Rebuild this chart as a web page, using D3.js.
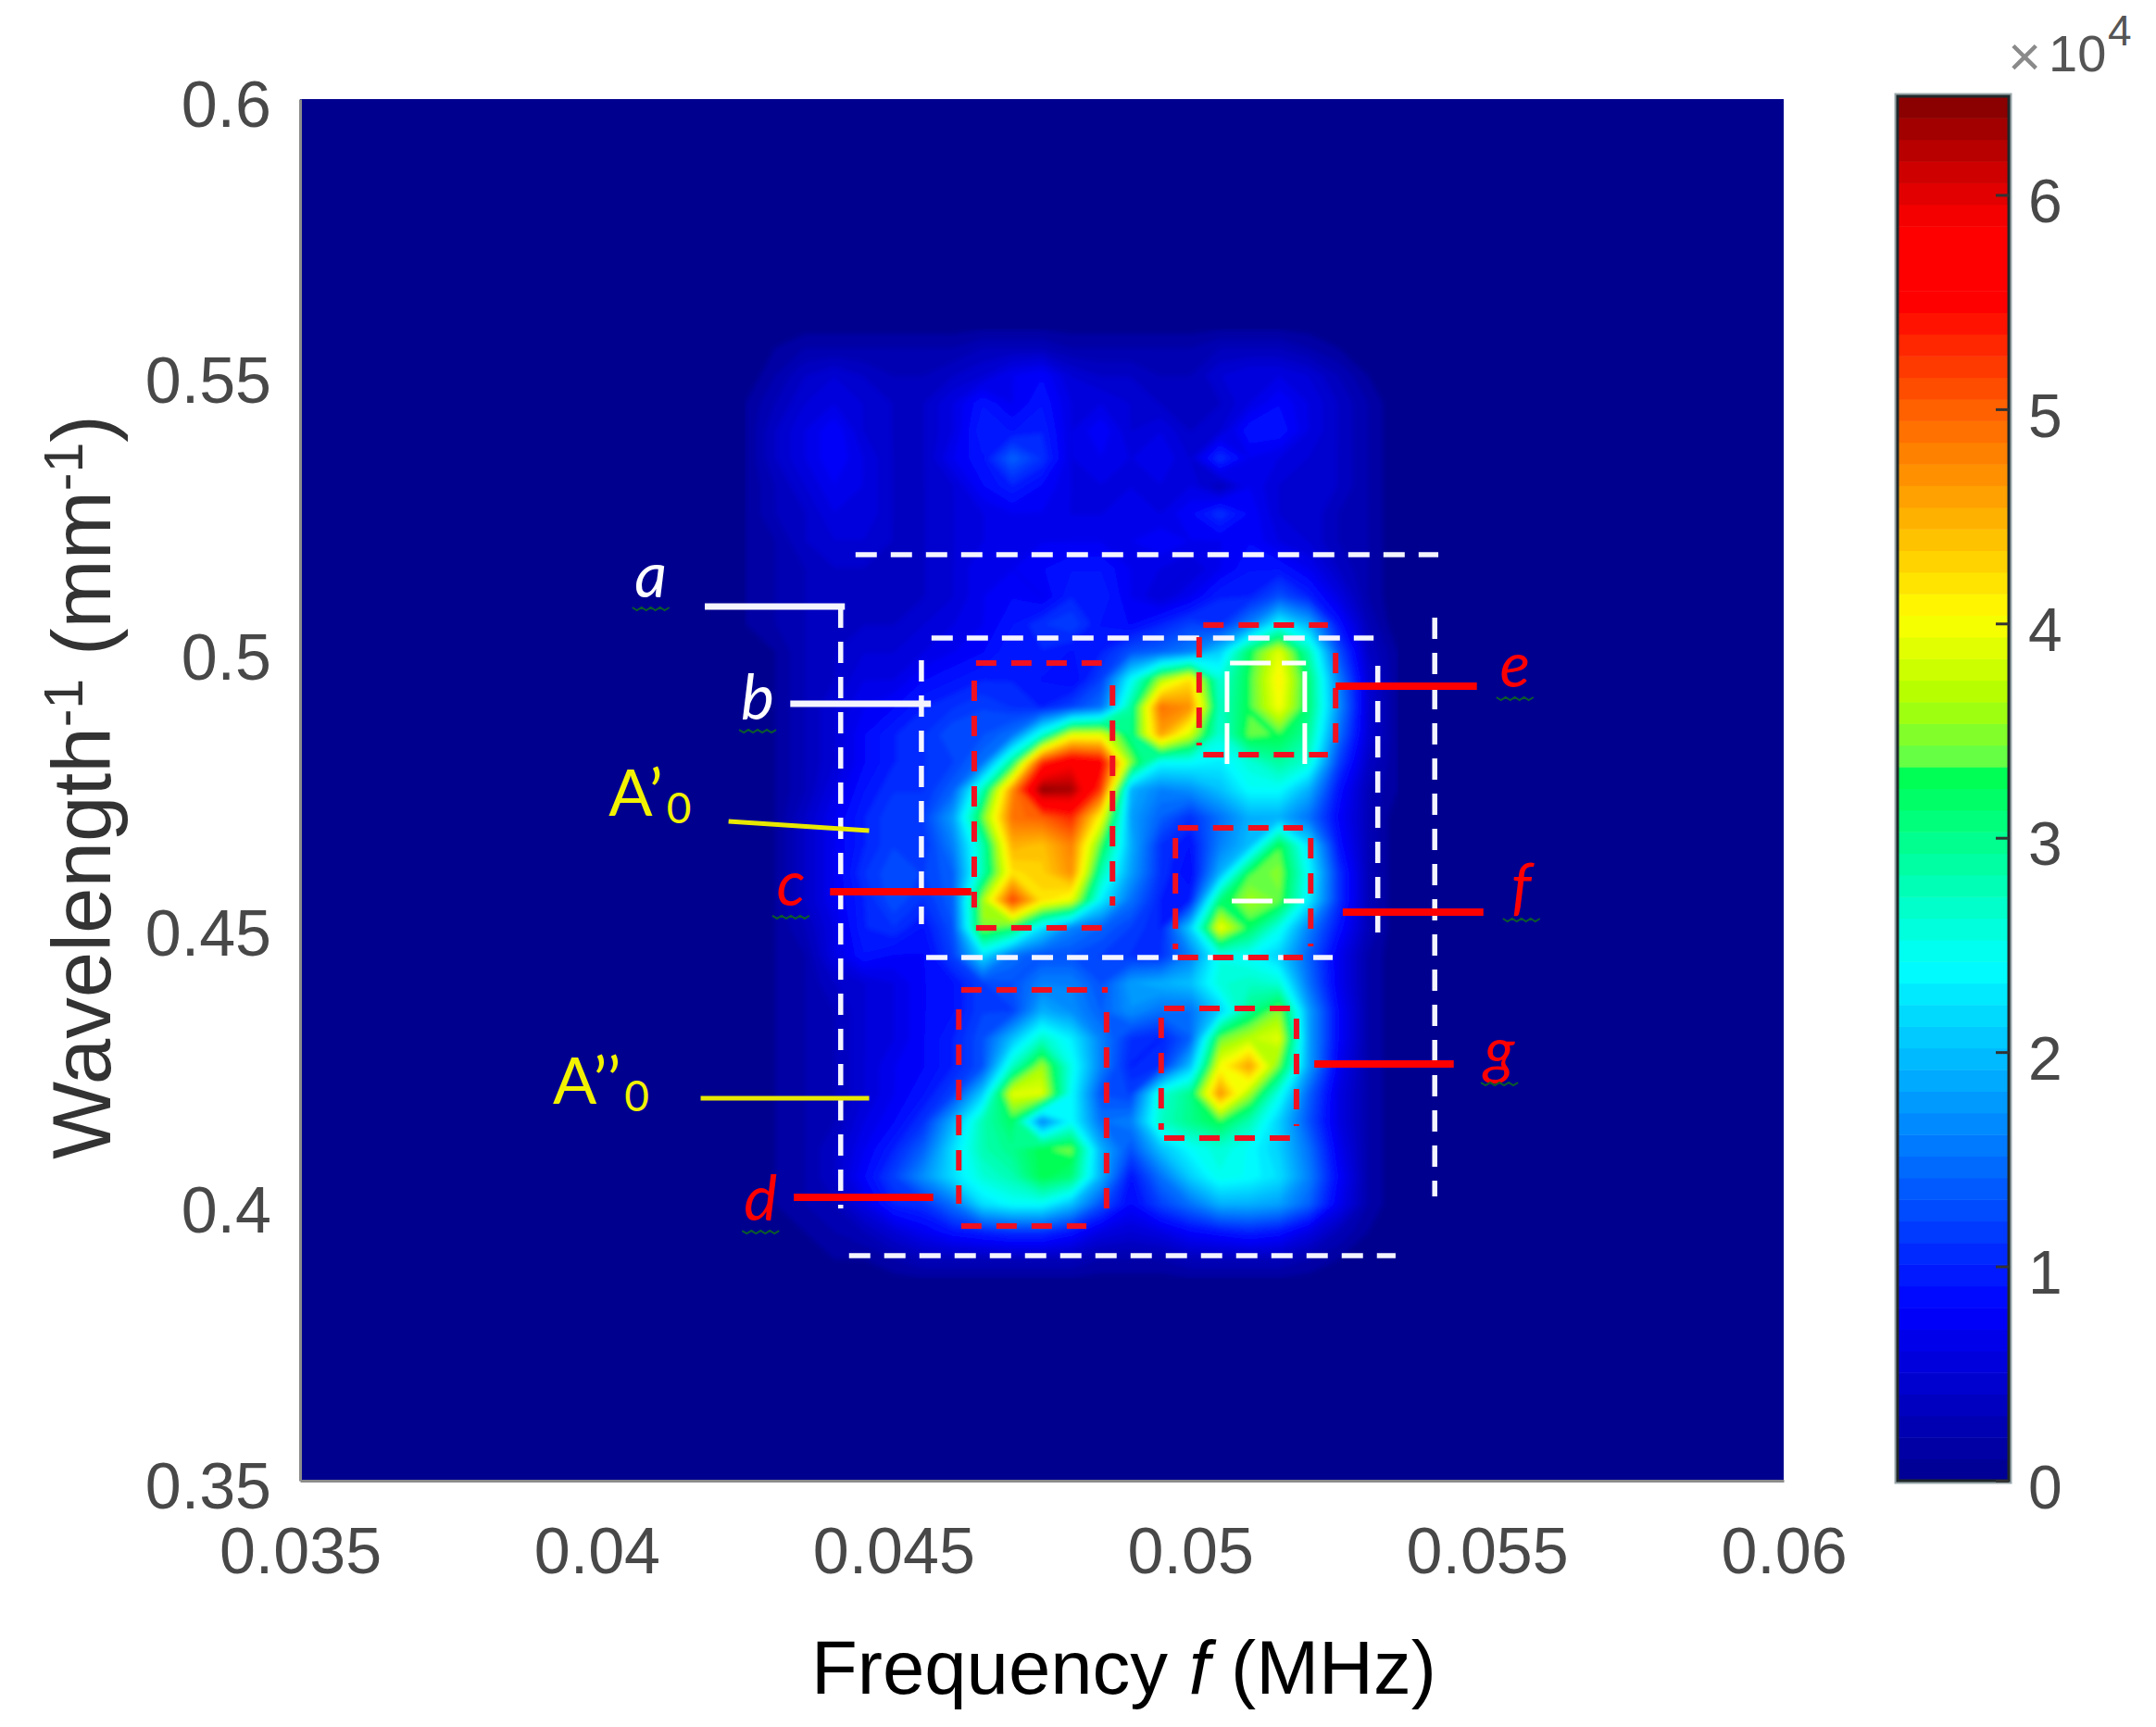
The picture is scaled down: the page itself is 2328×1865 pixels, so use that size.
<!DOCTYPE html>
<html>
<head>
<meta charset="utf-8">
<script src="https://cdn.jsdelivr.net/npm/d3@7"></script>
<style>
  html, body { margin: 0; background: #fff; }
  text { font-family: "Liberation Sans", Arial, sans-serif; }
  .note { font-family: Lato, "Open Sans", sans-serif; }
</style>
</head>
<body>
<script>
'use strict';

var frequencies = [0.042, 0.0425, 0.043, 0.0435, 0.044, 0.0445, 0.045, 0.0455, 0.046, 0.0465, 0.047, 0.0475, 0.048,
  0.0485, 0.049, 0.0495, 0.05, 0.0505, 0.051, 0.0515, 0.052, 0.0525, 0.053, 0.0535, 0.054];

var wavelengths = [0.56, 0.555, 0.55, 0.545, 0.54, 0.535, 0.53, 0.525, 0.52, 0.515, 0.51, 0.505, 0.5, 0.495, 0.49,
  0.485, 0.48, 0.475, 0.47, 0.465, 0.46, 0.455, 0.45, 0.445, 0.44, 0.435, 0.43, 0.425, 0.42, 0.415, 0.41, 0.405,
  0.4, 0.395, 0.39, 0.385];

// amplitude x 10^4, one row per wavelength, one column per frequency
var amplitudes = [
  [0,0,0,0,0,0,0,0,0,0,0,0,0,0,0,0,0,0,0,0,0,0,0,0,0],
  [0,0,.1,.2,.2,.2,.2,.2,.2,.3,.3,.3,.2,.2,.2,.2,.2,.3,.3,.3,.2,.1,.1,0,0],
  [0,0,.2,.4,.5,.4,.3,.3,.4,.5,.7,.8,.5,.4,.4,.3,.3,.5,.6,.6,.5,.3,.1,0,0],
  [0,.1,.3,.5,.6,.5,.4,.4,.6,.9,.7,.9,.6,.6,.5,.4,.4,.4,.6,.8,.6,.4,.2,0,0],
  [0,.1,.4,.6,.8,.5,.4,.4,.6,1,.9,1,.6,.8,.5,.6,.4,.5,.9,.9,.6,.4,.2,0,0],
  [0,.1,.4,.6,.8,.6,.4,.4,.7,.9,1.4,1.1,.6,.7,.6,.7,.5,1.1,.7,.6,.5,.4,.2,0,0],
  [0,.1,.3,.5,.7,.6,.4,.4,.5,.8,1,.8,.6,.6,.6,.6,.6,.3,.7,.5,.5,.4,.2,0,0],
  [0,.1,.3,.4,.6,.6,.4,.4,.5,.6,.7,.7,.6,.6,.7,.6,.8,1.1,.8,.5,.5,.3,.2,0,0],
  [0,.1,.2,.4,.5,.5,.4,.4,.5,.6,.7,.7,.7,.7,.7,.8,.7,.7,.8,.6,.5,.3,.2,0,0],
  [0,.1,.2,.3,.4,.4,.4,.4,.5,.7,.7,.8,.9,.9,.7,.6,.5,.7,.9,.9,.7,.4,.2,0,0],
  [0,.1,.2,.3,.4,.4,.4,.4,.5,.7,.8,.7,1,1,.7,.5,.7,1,1,1.3,1,.6,.2,0,0],
  [0,.1,.2,.3,.4,.4,.4,.5,.6,.7,.9,1.1,1.2,.9,.8,1,1.2,1.1,1.6,2.4,1.9,.9,.3,0,0],
  [0,0,.1,.3,.4,.5,.5,.6,.7,.8,1,1,.9,1,1.3,1.4,1.6,2.1,3.2,3.9,2.8,1.3,.4,.1,0],
  [0,0,.1,.3,.4,.6,.6,.8,.9,1,1,.9,.8,1.2,2.4,3.6,4.2,2.6,3.3,4.1,3.1,1.6,.5,.1,0],
  [0,0,.1,.3,.5,.7,.8,1,1.1,1.2,1.1,1,1.2,1.5,2.9,4.9,4.7,2.7,3.3,4,3.1,1.7,.5,.1,0],
  [0,0,.1,.3,.5,.8,1,1.1,1.3,1.3,1.5,2.6,3.9,3.9,3,4.6,3.8,2.6,3.4,3.3,2.9,1.5,.5,.1,0],
  [0,0,.1,.3,.5,.8,1,1.1,1.2,1.5,3,5.3,5.8,5.6,3.5,2.4,2.4,2.3,2.6,2.9,2.6,1.2,.4,.1,0],
  [0,0,.1,.3,.6,.9,1.1,1.1,1.4,2.8,4.7,6.4,6.3,5.2,1.9,1.6,1.7,2,2.4,2.4,1.9,.9,.3,.1,0],
  [0,0,.1,.4,.7,1,1.2,1.2,1.8,3.4,4.9,5,5.3,4,1.8,1.4,1.1,1.5,1.9,1.9,1.5,.8,.3,0,0],
  [0,0,.1,.4,.7,1,1.2,1.1,1.6,2.8,4.5,4.4,4.8,3.3,1.9,1.1,.9,1.6,2,3.3,2.2,.9,.3,0,0],
  [0,0,.1,.4,.7,1.1,1.3,1.2,1.4,2.8,4.2,4.3,4.7,2.8,1.8,1.1,.8,1.9,3.3,3.5,2.4,1.1,.3,0,0],
  [0,0,.1,.4,.7,1,1.3,1.1,1.4,3.6,5.2,4.2,3.9,2.3,1.5,1,1,3.1,3.6,3.4,2.3,1.1,.3,0,0],
  [0,0,.1,.3,.6,1,1.1,.9,1.3,3.5,3.2,2.2,1.6,1.4,1.2,1,2.1,4,3.2,2.5,1.6,.9,.3,0,0],
  [0,0,.1,.2,.6,.9,.8,.8,1.2,2.2,1.5,1.3,1.3,1.2,1.1,1.1,1.6,2.5,2.4,2.1,1.4,.7,.2,0,0],
  [0,0,.1,.2,.4,.5,.6,.8,.9,1.2,1.3,1.6,1.6,1.3,1.8,1.9,2,2.6,2.7,2.6,1.5,.7,.2,0,0],
  [0,0,.1,.2,.3,.5,.6,.8,.9,1.2,1.2,1.9,1.7,1.4,1.7,1.5,1.5,2.1,3,3.5,1.8,.8,.2,0,0],
  [0,0,.1,.2,.3,.5,.6,.8,1,1.3,2,2.7,2.3,1.6,1.1,1,1.4,3.4,3.7,3.9,1.8,.8,.2,0,0],
  [0,0,.1,.2,.3,.5,.7,.8,1,1.3,2.7,3.6,2.5,1.6,1,1.1,2,4,4.6,3.4,1.8,.7,.2,0,0],
  [0,0,.1,.2,.3,.5,.7,.9,1.2,2.1,3.9,3.9,2.4,1.3,1.2,2.6,3,4.7,3.6,2.5,1.4,.6,.2,0,0],
  [0,0,.1,.2,.3,.6,.8,1.1,1.9,2.8,3.2,1.6,2.4,1.5,1.6,2.7,3,3.3,2.8,2.1,1.3,.6,.2,0,0],
  [0,0,.1,.2,.4,.7,1,1.4,2.2,2.8,3,3.3,3.4,1.9,1.3,2,2.4,2.6,2.4,2.1,1.5,.7,.2,0,0],
  [0,0,.1,.2,.4,.8,1.2,1.7,2.2,2.6,2.8,3.3,3.1,1.9,.9,1.5,2.1,2.5,2.4,2.2,1.6,.8,.2,0,0],
  [0,0,.1,.2,.3,.6,1,1.1,1.5,2.2,2.4,2.4,2,1.3,.8,1.2,1.5,1.9,1.9,1.8,1.4,.7,.2,0,0],
  [0,0,0,.1,.2,.3,.5,.7,.9,1,1.1,1.1,.9,.6,.5,.6,.8,.9,1,.9,.6,.3,.1,0,0],
  [0,0,0,0,.1,.1,.2,.3,.3,.3,.3,.3,.3,.2,.2,.2,.3,.3,.3,.3,.2,.1,0,0,0],
  [0,0,0,0,0,0,0,0,0,0,0,0,0,0,0,0,0,0,0,0,0,0,0,0,0]
];

var freqTicks = [0.035, 0.04, 0.045, 0.05, 0.055, 0.06];
var waveTicks = [0.35, 0.4, 0.45, 0.5, 0.55, 0.6];
var barTicks = [0, 1, 2, 3, 4, 5, 6];
var barMax = 6.46;

// colormap stops
var colorStops = [0, 0.8, 2.4, 3.3, 3.36, 3.65, 4.03, 4.5, 5, 5.5, 5.85, 6.1, 6.46];
var colorValues = ['#00008f', '#0000ff', '#00ffff', '#00ff50', '#60ff48', '#b0ff00', '#ffff00', '#ffb000', '#ff6000',
  '#ff0000', '#ff0000', '#d00000', '#800000'];

// annotation segments, [f1, w1, f2, w2] in axis units
var whiteDashes = [
  [0.04436, 0.51756, 0.05418, 0.51756], [0.04411, 0.50818, 0.04411, 0.39926], [0.05412, 0.50617, 0.05412, 0.40144],
  [0.04425, 0.39072, 0.05346, 0.39072],
  [0.04564, 0.50248, 0.05309, 0.50248], [0.04547, 0.49846, 0.04547, 0.4507], [0.05316, 0.49745, 0.05316, 0.4492],
  [0.04555, 0.44467, 0.0524, 0.44467]
];
var innerDashes = [
  [0.05067, 0.49796, 0.05195, 0.49796], [0.05062, 0.49645, 0.05062, 0.47936], [0.05193, 0.49645, 0.05193, 0.47936],
  [0.0507, 0.45489, 0.05192, 0.45489]
];
var redDashes = [
  [0.04639, 0.49796, 0.04851, 0.49796], [0.04636, 0.49477, 0.04636, 0.45372], [0.04869, 0.49394, 0.04869, 0.45406], [0.04639, 0.45003, 0.04851, 0.45003],
  [0.04614, 0.43881, 0.04861, 0.43881], [0.0461, 0.43529, 0.0461, 0.4001], [0.04859, 0.43479, 0.04859, 0.39926], [0.04614, 0.39608, 0.04825, 0.39608],
  [0.05022, 0.50483, 0.05232, 0.50483], [0.05015, 0.50265, 0.05015, 0.48304], [0.05245, 0.4998, 0.05245, 0.48355], [0.05022, 0.48137, 0.05232, 0.48137],
  [0.04979, 0.46813, 0.0519, 0.46813], [0.04975, 0.46629, 0.04975, 0.44618], [0.05203, 0.46629, 0.05203, 0.44668], [0.04979, 0.44467, 0.0519, 0.44467],
  [0.04956, 0.43546, 0.05168, 0.43546], [0.04951, 0.43378, 0.04951, 0.41351], [0.05179, 0.43361, 0.05179, 0.41418], [0.04956, 0.412, 0.05168, 0.412]
];
var whiteLeaders = [[0.04182, 0.50818, 0.04418, 0.50818], [0.04326, 0.49058, 0.04563, 0.49058]];
var yellowLeaders = [[0.04222, 0.4693, 0.04459, 0.46763], [0.04175, 0.4192, 0.04459, 0.4192]];
var redLeaders = [
  [0.04393, 0.45657, 0.04631, 0.45657], [0.04332, 0.40127, 0.04567, 0.40127], [0.05245, 0.49377, 0.05483, 0.49377],
  [0.05257, 0.45288, 0.05494, 0.45288], [0.05209, 0.4254, 0.05444, 0.4254]
];

var letterNames = ['a', 'b', 'c', 'd', 'e', 'f', 'g'];
var letterFreqs = [0.04091, 0.04271, 0.04327, 0.04276, 0.05547, 0.05558, 0.05521];
var letterWaves = [0.50985, 0.48773, 0.45406, 0.39708, 0.4936, 0.45355, 0.42389];
var letterColors = ['#fff', '#fff', '#f00', '#f00', '#f00', '#f00', '#f00'];

var width = 2328;
var height = 1865;
var plot = { left: 324, right: 1926, top: 107, bottom: 1599 };
var bar = { left: 2049, right: 2169, top: 104, bottom: 1599 };

var svg = d3.select('body').append('svg')
  .attr('width', width)
  .attr('height', height)
  .style('display', 'block');

var x = d3.scaleLinear().domain([0.035, 0.06]).range([plot.left, plot.right]);
var y = d3.scaleLinear().domain([0.35, 0.6]).range([plot.bottom, plot.top]);
var barY = d3.scaleLinear().domain([0, barMax]).range([bar.bottom, bar.top]);

var jet = d3.scaleLinear()
  .domain(colorStops)
  .range(colorValues)
  .interpolate(d3.interpolateRgb)
  .clamp(true);

var levels = d3.range(64).map(function(i) { return i * barMax / 64; });

svg.append('defs').append('filter')
  .attr('id', 'soft')
  .attr('x', 0).attr('y', 0).attr('width', 1).attr('height', 1)
  .append('feGaussianBlur')
  .attr('stdDeviation', 2.5);

svg.append('defs').append('clipPath')
  .attr('id', 'plot-clip')
  .append('rect')
  .attr('x', plot.left).attr('y', plot.top)
  .attr('width', plot.right - plot.left).attr('height', plot.bottom - plot.top);

svg.append('rect')
  .attr('x', plot.left).attr('y', plot.top)
  .attr('width', plot.right - plot.left).attr('height', plot.bottom - plot.top)
  .attr('fill', jet(0));

// filled contours give the same stepped bands as the 64 level colormap
var cols = frequencies.length;
var rows = wavelengths.length;
var flat = d3.merge(amplitudes);
var contours = d3.contours().size([cols, rows]).thresholds(levels.slice(1))(flat);

var fScale = d3.scaleLinear().domain([0, cols - 1]).range([frequencies[0], frequencies[cols - 1]]);
var wScale = d3.scaleLinear().domain([0, rows - 1]).range([wavelengths[0], wavelengths[rows - 1]]);
var gridPath = d3.geoPath(d3.geoTransform({
  point: function(gx, gy) {
    this.stream.point(x(fScale(gx - 0.5)), y(wScale(gy - 0.5)));
  }
}));

var bandStep = barMax / 64;
svg.append('g')
  .attr('clip-path', 'url(#plot-clip)')
  .append('g')
  .attr('filter', 'url(#soft)')
  .selectAll('path')
  .data(contours)
  .enter().append('path')
  .attr('d', gridPath)
  .attr('fill', function(d) { return jet(d.value + bandStep / 2); });

// annotations
function drawSegments(list, color, thick, dash) {
  svg.append('g').selectAll('line')
    .data(list)
    .enter().append('line')
    .attr('x1', function(d) { return x(d[0]); })
    .attr('y1', function(d) { return y(d[1]); })
    .attr('x2', function(d) { return x(d[2]); })
    .attr('y2', function(d) { return y(d[3]); })
    .attr('stroke', color)
    .attr('stroke-width', thick)
    .attr('stroke-dasharray', dash);
}

drawSegments(whiteDashes, '#f4f4ff', 5.5, '23 15');
drawSegments(innerDashes, '#fff', 5, '44 12');
drawSegments(redDashes, '#f01020', 6, '22 16');
drawSegments(whiteLeaders, '#f4f4ff', 7, null);
drawSegments(yellowLeaders, '#e8e800', 5, null);
drawSegments(redLeaders, '#f00', 8, null);

var letters = letterNames.map(function(name, i) {
  return { name: name, f: letterFreqs[i], w: letterWaves[i], color: letterColors[i] };
});

svg.append('g').selectAll('text')
  .data(letters)
  .enter().append('text')
  .attr('class', 'note')
  .attr('x', function(d) { return x(d.f); })
  .attr('y', function(d) { return y(d.w); })
  .attr('text-anchor', 'middle')
  .attr('font-size', 68)
  .attr('font-style', 'italic')
  .attr('fill', function(d) { return d.color; })
  .text(function(d) { return d.name; });

// spell check squiggles under the letters
var squiggle = d3.line();
svg.append('g').selectAll('path')
  .data(letters)
  .enter().append('path')
  .attr('d', function(d) {
    var pts = d3.range(0, 9).map(function(i) {
      return [x(d.f) - 20 + i * 5, y(d.w) + 12 + (i % 2 ? 2 : -1)];
    });
    return squiggle(pts);
  })
  .attr('fill', 'none')
  .attr('stroke', '#0b5a2c')
  .attr('stroke-width', 2);

function modeLabel(f, w, mark) {
  var t = svg.append('text')
    .attr('class', 'note')
    .attr('x', x(f))
    .attr('y', y(w))
    .attr('font-size', 70)
    .attr('fill', '#f2f200');
  t.append('tspan').text('A' + mark);
  t.append('tspan').attr('dy', 8).attr('dx', 4).attr('font-size', 46).text('0');
}
modeLabel(0.0402, 0.47031, '\u2019');
modeLabel(0.03926, 0.4182, '\u2019\u2019');

// axes
var xAxis = svg.append('g')
  .attr('transform', 'translate(0,' + plot.bottom + ')')
  .call(d3.axisBottom(x).tickValues(freqTicks).tickFormat(String).tickSize(0).tickPadding(50));
var yAxis = svg.append('g')
  .attr('transform', 'translate(' + plot.left + ',0)')
  .call(d3.axisLeft(y).tickValues(waveTicks).tickFormat(String).tickSize(0).tickPadding(31));

[xAxis, yAxis].forEach(function(ax) {
  ax.select('.domain').attr('stroke', '#8c8c8c').attr('stroke-width', 3);
  ax.selectAll('text')
    .attr('font-family', '"Liberation Sans", Arial, sans-serif')
    .attr('font-size', 70)
    .attr('fill', '#484848');
});
yAxis.selectAll('text').attr('y', 7);

svg.append('text')
  .attr('x', 876)
  .attr('y', 1829)
  .attr('font-size', 81.5)
  .attr('fill', '#000')
  .call(function(t) {
    t.append('tspan').text('Frequency ');
    t.append('tspan').attr('font-style', 'italic').text('f');
    t.append('tspan').text(' (MHz)');
  });

svg.append('text')
  .attr('transform', 'translate(119,1252) rotate(-90)')
  .attr('font-size', 89)
  .attr('fill', '#333')
  .call(function(t) {
    t.append('tspan').text('Wavelength');
    t.append('tspan').attr('dy', -30).attr('font-size', 59).text('-1');
    t.append('tspan').attr('dy', 30).text(' (mm');
    t.append('tspan').attr('dy', -30).attr('font-size', 59).text('-1');
    t.append('tspan').attr('dy', 30).text(')');
  });

// colorbar
svg.append('g').selectAll('rect')
  .data(levels)
  .enter().append('rect')
  .attr('x', bar.left)
  .attr('width', bar.right - bar.left)
  .attr('y', function(d) { return barY(d + bandStep); })
  .attr('height', barY(0) - barY(bandStep) + 0.5)
  .attr('fill', function(d) { return jet(d + bandStep / 2); });

svg.append('rect')
  .attr('x', bar.left - 2).attr('y', bar.top - 2)
  .attr('width', bar.right - bar.left + 4).attr('height', bar.bottom - bar.top + 4)
  .attr('fill', 'none')
  .attr('stroke', '#9aa8ac')
  .attr('stroke-width', 3);

svg.append('rect')
  .attr('x', bar.left).attr('y', bar.top)
  .attr('width', bar.right - bar.left).attr('height', bar.bottom - bar.top)
  .attr('fill', 'none')
  .attr('stroke', '#20282a')
  .attr('stroke-width', 3);

var barAxis = svg.append('g')
  .attr('transform', 'translate(' + bar.right + ',0)')
  .call(d3.axisRight(barY).tickValues(barTicks).tickFormat(String).tickSizeInner(-14).tickSizeOuter(0).tickPadding(21));
barAxis.select('.domain').remove();
barAxis.selectAll('line').attr('stroke', '#333').attr('stroke-width', 3);
barAxis.selectAll('text')
  .attr('font-family', '"Liberation Sans", Arial, sans-serif')
  .attr('font-size', 66)
  .attr('fill', '#484848')
  .attr('y', 8);

svg.append('text')
  .attr('x', 2168)
  .attr('y', 82)
  .attr('font-size', 62)
  .attr('fill', '#8a8a8a')
  .text('\u00d7');
svg.append('text')
  .attr('x', 2212)
  .attr('y', 77)
  .attr('font-size', 56)
  .attr('fill', '#555')
  .text('10');
svg.append('text')
  .attr('x', 2276)
  .attr('y', 49)
  .attr('font-size', 46)
  .attr('fill', '#555')
  .text('4');
</script>
</body>
</html>
